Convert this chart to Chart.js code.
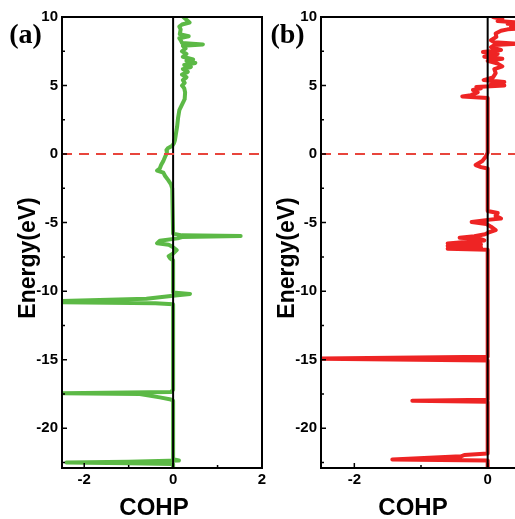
<!DOCTYPE html>
<html>
<head>
<meta charset="utf-8">
<script src="https://cdn.jsdelivr.net/npm/chart.js@4/dist/chart.umd.min.js"></script>
<style>
  html, body { margin: 0; padding: 0; background: #fff; }
  body { width: 515px; height: 519px; overflow: hidden; position: relative; }
  canvas { position: absolute; top: 0; }
  #cohpA { left: 0; }
  #cohpB { left: 259px; }
</style>
</head>
<body>
<canvas id="cohpA" width="270" height="519"></canvas>
<canvas id="cohpB" width="370" height="519"></canvas>
<script>
// Axis ranges and ticks
var xMin = -2.5, xMax = 2;
var yMin = -22.9, yMax = 10;
var xMajor = [-2, 0, 2];
var xMinor = [-1, 1];
var yMajor = [-20, -15, -10, -5, 0, 5, 10];
var yMinor = [-22.5, -17.5, -12.5, -7.5, -2.5, 2.5, 7.5];

// Panel (a) - green COHP curve
var aEnergy = [10, 9.8, 9.6, 9.45, 9.3, 9.1, 8.75, 8.6, 8.45, 8.25,
               8.1, 8.0, 7.9, 7.7, 7.5, 7.3, 7.1, 6.9, 6.8, 6.65,
               6.5, 6.35, 6.2, 6.0, 5.8, 5.6, 5.4, 5.2, 5.0, 4.8,
               4.5, 4.0, 3.6, 3.2, 2.6, 2.0, 1.4, 1.0, 0.8, 0.6,
               0.45, 0.3, 0.1, -0.2, -0.5, -0.8, -1.05, -1.2, -1.35, -1.6,
               -1.9, -2.2, -2.5, -5.8, -5.93, -5.97, -6.05, -6.15, -6.33, -6.5,
               -6.62, -6.75, -7.0, -7.25, -7.45, -7.6, -7.75, -10.1, -10.2, -10.3,
               -10.4, -10.55, -10.72, -10.8, -10.88, -10.95, -17.2, -17.35, -17.45, -17.5,
               -17.75, -17.9, -18.0, -22.25, -22.35, -22.45, -22.5, -22.55, -22.6, -22.9];
var aCohp   = [0.23, 0.3, 0.37, 0.2, 0.14, 0.17, 0.15, 0.35, 0.14, 0.18,
               0.2, 0.67, 0.22, 0.28, 0.2, 0.3, 0.22, 0.45, 0.3, 0.5,
               0.25, 0.4, 0.22, 0.33, 0.2, 0.3, 0.22, 0.26, 0.2, 0.25,
               0.27, 0.26, 0.2, 0.14, 0.11, 0.09, 0.06, 0.04, 0.02, -0.02,
               -0.11, -0.15, -0.14, -0.18, -0.22, -0.27, -0.3, -0.36, -0.22, -0.18,
               -0.11, -0.05, -0.02, 0, 0.2, 1.52, 0.2, 0.1, -0.3, -0.36,
               -0.1, -0.02, 0.08, 0, -0.1, -0.07, 0, 0, 0.38, 0.1,
               -0.2, -0.6, -2.6, -2.6, -0.4, 0, 0, -0.05, -2.6, -0.75,
               -0.3, -0.05, 0, 0, 0.13, -1.0, -2.4, -1.0, 0, 0];

// Panel (b) - red COHP curve
var bEnergy = [10, 9.85, 9.7, 9.6, 9.5, 9.4, 9.3, 9.2, 9.1, 9.0,
               8.8, 8.55, 8.3, 8.15, 8.05, 7.95, 7.8, 7.6, 7.45, 7.3,
               7.1, 6.95, 6.8, 6.6, 6.4, 6.2, 5.9, 5.6, 5.4, 5.25,
               5.1, 5.0, 4.9, 4.8, 4.67, 4.5, 4.3, 4.2, 4.1, 0.1,
               -0.2, -0.5, -0.8, -0.95, -1.05, -4.15, -4.3, -4.5, -4.7, -4.8,
               -4.95, -5.1, -5.3, -5.55, -5.7, -5.85, -6.0, -6.1, -6.2, -6.3,
               -6.4, -6.52, -6.6, -6.7, -6.8, -6.9, -6.98, -14.78, -14.92, -15.05,
               -17.92, -18.0, -18.06, -21.85, -21.95, -22.05, -22.28, -22.35, -22.9];
var bCohp   = [0.08, 0.22, 0.15, 0.45, 0.3, 0.6, 0.35, 0.6, 0.3, 0.2,
               0.12, 0.13, 0.05, 0.1, 0.45, 0.1, 0.05, 0.2, -0.07, 0.15,
               -0.05, 0.22, 0.0, 0.15, 0.22, 0.1, 0.12, 0.08, -0.06, 0.25,
               0.05, 0.25, -0.17, -0.1, -0.22, -0.15, -0.25, -0.38, 0, 0,
               -0.03, -0.08, -0.18, -0.1, 0, 0, 0.15, 0.12, 0.2, 0,
               -0.24, -0.02, 0.05, 0.12, 0.02, -0.04, -0.2, -0.42, -0.1, -0.05,
               -0.3, -0.6, -0.1, -0.6, -0.1, -0.6, 0, 0, -2.6, 0,
               0, -1.13, 0, 0, -0.35, -0.4, -1.43, 0, 0];

var SANS = '"Liberation Sans", Arial, sans-serif';
var SERIF = '"Liberation Serif", "Times New Roman", serif';

function toPoints(ens, vals) {
	return ens.map(function(e, i) { return { x: vals[i], y: e }; });
}

// Box, inward ticks and panel texts
var framePlugin = {
	id: 'frame',
	afterDatasetsDraw: function(chart, args, opts) {
		var ctx = chart.ctx, a = chart.chartArea;
		var xs = chart.scales.x, ys = chart.scales.y;
		ctx.save();
		ctx.strokeStyle = '#000';
		ctx.lineWidth = 2;
		ctx.strokeRect(a.left, a.top, a.right - a.left, a.bottom - a.top);
		ctx.lineWidth = 1.5;
		ctx.beginPath();
		xMajor.forEach(function(v) { var p = xs.getPixelForValue(v); ctx.moveTo(p, a.bottom); ctx.lineTo(p, a.bottom - 5); });
		xMinor.forEach(function(v) { var p = xs.getPixelForValue(v); ctx.moveTo(p, a.bottom); ctx.lineTo(p, a.bottom - 3); });
		yMajor.forEach(function(v) { var p = ys.getPixelForValue(v); ctx.moveTo(a.left, p); ctx.lineTo(a.left + 5, p); });
		yMinor.forEach(function(v) { var p = ys.getPixelForValue(v); ctx.moveTo(a.left, p); ctx.lineTo(a.left + 3, p); });
		ctx.stroke();
		ctx.restore();
	},
	afterDraw: function(chart, args, opts) {
		var ctx = chart.ctx;
		ctx.save();
		ctx.fillStyle = '#000';
		ctx.textAlign = 'center';
		ctx.textBaseline = 'middle';
		ctx.font = 'bold 28px ' + SERIF;
		ctx.fillText(opts.panel, opts.panelX, 36);
		ctx.font = 'bold 24px ' + SANS;
		ctx.fillText('COHP', 154, 508);
		ctx.translate(28.5, 258);
		ctx.rotate(-Math.PI / 2);
		ctx.font = 'bold 23px ' + SANS;
		ctx.fillText('Energy(eV)', 0, 0);
		ctx.restore();
	}
};

function makeChart(id, ens, vals, color, panel, panelX) {
	return new Chart(document.getElementById(id), {
		type: 'scatter',
		data: {
			datasets: [
				{
					// Fermi level
					data: [{ x: xMin, y: 0 }, { x: xMax, y: 0 }],
					showLine: true, borderColor: '#e8453c', borderWidth: 2,
					borderDash: [10, 7], pointRadius: 0
				},
				{
					// zero COHP line
					data: [{ x: 0, y: yMin }, { x: 0, y: yMax }],
					showLine: true, borderColor: '#000', borderWidth: 2, pointRadius: 0
				},
				{
					data: toPoints(ens, vals),
					showLine: true, borderColor: color, borderWidth: 4,
					pointRadius: 0, tension: 0, borderJoinStyle: 'round', borderCapStyle: 'round'
				}
			]
		},
		options: {
			responsive: false,
			animation: false,
			layout: { padding: { top: 17, right: 8, left: 0, bottom: 0 } },
			plugins: {
				legend: { display: false },
				tooltip: { enabled: false },
				frame: { panel: panel, panelX: panelX }
			},
			scales: {
				x: {
					type: 'linear', min: xMin, max: xMax,
					afterBuildTicks: function(s) { s.ticks = xMajor.map(function(v) { return { value: v }; }); },
					afterFit: function(s) { s.height = 51; },
					grid: { display: false, drawTicks: false },
					border: { display: false },
					ticks: { padding: 3, color: '#000', font: { family: SANS, size: 15, weight: 'bold' } }
				},
				y: {
					type: 'linear', min: yMin, max: yMax,
					afterBuildTicks: function(s) { s.ticks = yMajor.map(function(v) { return { value: v }; }); },
					afterFit: function(s) { s.width = 62; },
					grid: { display: false, drawTicks: false },
					border: { display: false },
					ticks: { padding: 4, color: '#000', font: { family: SANS, size: 15, weight: 'bold' } }
				}
			}
		},
		plugins: [framePlugin]
	});
}

makeChart('cohpA', aEnergy, aCohp, '#5cb946', '(a)', 25.5);
makeChart('cohpB', bEnergy, bCohp, '#ee2424', '(b)', 28.5);
</script>
</body>
</html>
